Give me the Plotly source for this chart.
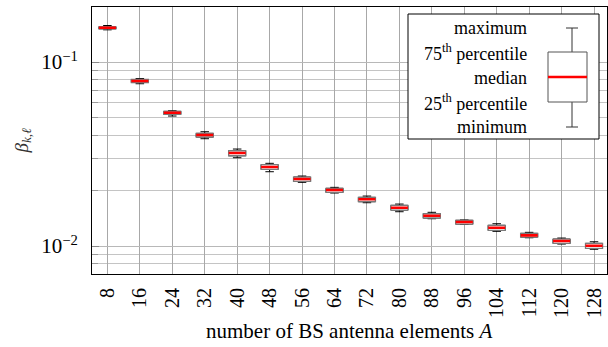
import plotly.graph_objects as go

# ---- data ----
antennas = [8, 16, 24, 32, 40, 48, 56, 64, 72, 80, 88, 96, 104, 112, 120, 128]
beta_max = [0.1579, 0.08132, 0.05435, 0.04180, 0.03366, 0.02815, 0.02401, 0.02084,
            0.01869, 0.01691, 0.01525, 0.01385, 0.01322, 0.01187, 0.01105, 0.01055]
beta_q3 = [0.1553, 0.08033, 0.05395, 0.04097, 0.03295, 0.02766, 0.02371, 0.02059,
           0.01839, 0.01664, 0.01498, 0.01380, 0.01296, 0.01172, 0.01091, 0.01034]
beta_median = [0.1536, 0.07880, 0.05302, 0.04011, 0.03201, 0.02687, 0.02312, 0.02015,
               0.01794, 0.01615, 0.01461, 0.01351, 0.01258, 0.01143, 0.01064, 0.01004]
beta_q1 = [0.1515, 0.07735, 0.05203, 0.03912, 0.03095, 0.02611, 0.02247, 0.01957,
           0.01741, 0.01569, 0.01420, 0.01317, 0.01217, 0.01119, 0.01034, 0.00972]
beta_min = [0.1496, 0.07620, 0.05087, 0.03830, 0.03019, 0.02534, 0.02219, 0.01941,
            0.01719, 0.01536, 0.01407, 0.01312, 0.01202, 0.01109, 0.01025, 0.00960]
x_tick_labels = [str(a) for a in antennas]
y_tick_vals = [0.01, 0.1]
y_tick_text = ["10<sup>\u22122</sup>", "10<sup>\u22121</sup>"]
y_minor_vals = [0.008, 0.009, 0.02, 0.03, 0.04, 0.05, 0.06, 0.07, 0.08, 0.09]
legend_labels = ["maximum", "75<sup>th</sup> percentile", "median",
                 "25<sup>th</sup> percentile", "minimum"]

FONT = "Liberation Serif, Times New Roman, DejaVu Serif, serif"
W, H = 608, 347
ML, MR, MT, MB = 92, 1, 7, 73
PW, PH = W - ML - MR, H - MT - MB


def px(x):
    return (x - ML) / PW


def py(y):
    return (H - MB - y) / PH


fig = go.Figure()
box_w = 4.2
# whiskers (black)
fig.add_trace(go.Box(x=antennas, q1=beta_q1, median=beta_median, q3=beta_q3,
                     lowerfence=beta_min, upperfence=beta_max,
                     width=box_w, whiskerwidth=0.5,
                     line=dict(color="black", width=1), fillcolor="white",
                     boxpoints=False, showlegend=False, hoverinfo="skip"))
# box body (gray border)
fig.add_trace(go.Box(x=antennas, q1=beta_q1, median=beta_median, q3=beta_q3,
                     lowerfence=beta_q1, upperfence=beta_q3,
                     width=box_w, whiskerwidth=0,
                     line=dict(color="#7a7a7a", width=1.3), fillcolor="white",
                     boxpoints=False, showlegend=False, hoverinfo="skip"))
# median (red)
fig.add_trace(go.Box(x=antennas, q1=beta_median, median=beta_median, q3=beta_median,
                     lowerfence=beta_median, upperfence=beta_median,
                     width=box_w, whiskerwidth=0,
                     line=dict(color="#ff0000", width=2.6), fillcolor="rgba(0,0,0,0)",
                     boxpoints=False, showlegend=False, hoverinfo="skip"))

fig.update_layout(
    width=W, height=H,
    margin=dict(l=ML, r=MR, t=MT, b=MB, pad=0),
    paper_bgcolor="white", plot_bgcolor="white",
    boxmode="overlay", showlegend=False,
    font=dict(family=FONT, size=19, color="black"),
)
fig.update_xaxes(
    range=[4.2, 131.2], tickvals=antennas, ticktext=x_tick_labels, tickangle=-90,
    showgrid=True, gridcolor="#a8a8a8", gridwidth=1,
    showline=True, linecolor="black", linewidth=1, mirror=True,
    ticks="", zeroline=False, tickfont=dict(size=20, family=FONT),
    ticklabelstandoff=5,
)
fig.update_yaxes(
    type="log", range=[-2.152, -0.701],
    tickvals=y_tick_vals, ticktext=y_tick_text,
    showgrid=True, gridcolor="#b8b8b8", gridwidth=1,
    showline=True, linecolor="black", linewidth=1, mirror=True,
    ticks="inside", ticklen=7, tickcolor="#888888",
    minor=dict(tickvals=y_minor_vals, showgrid=True, gridcolor="#c4c4c4",
               ticks="inside", ticklen=6, tickcolor="#999999"),
    zeroline=False, tickfont=dict(size=21, family=FONT),
    ticklabelstandoff=9,
)

# axis titles
fig.add_annotation(x=0.5, y=py(331), xref="paper", yref="paper",
                   text="number of BS antenna elements <i>A</i>", showarrow=False,
                   xanchor="center", yanchor="middle",
                   font=dict(family=FONT, size=21, color="black"))
fig.add_annotation(x=px(22), y=0.5, xref="paper", yref="paper",
                   text="<i>\u03b2</i><sub><i>k</i>,<i>\u2113</i></sub>", showarrow=False,
                   textangle=-90, xanchor="center", yanchor="middle",
                   font=dict(family=FONT, size=19, color="#333333"))

# custom legend box
fig.add_shape(type="rect", xref="paper", yref="paper",
              x0=px(408), x1=px(599), y0=py(139), y1=py(14),
              line=dict(color="black", width=1), fillcolor="white", layer="above")
for lab, yy in zip(legend_labels, [28, 53, 78, 102, 127]):
    fig.add_annotation(x=px(529), y=py(yy), xref="paper", yref="paper", text=lab,
                       showarrow=False, xanchor="right", yanchor="middle",
                       font=dict(family=FONT, size=18, color="black"))
# legend glyph
gl = dict(xref="paper", yref="paper", layer="above")
fig.add_shape(type="line", x0=px(572), x1=px(572), y0=py(28), y1=py(52),
              line=dict(color="#333333", width=1), **gl)
fig.add_shape(type="line", x0=px(572), x1=px(572), y0=py(102), y1=py(127),
              line=dict(color="#333333", width=1), **gl)
fig.add_shape(type="line", x0=px(566), x1=px(578), y0=py(28), y1=py(28),
              line=dict(color="#333333", width=1), **gl)
fig.add_shape(type="line", x0=px(566), x1=px(578), y0=py(127), y1=py(127),
              line=dict(color="#333333", width=1), **gl)
fig.add_shape(type="rect", x0=px(548), x1=px(587), y0=py(102), y1=py(52),
              line=dict(color="#555555", width=1), fillcolor="white", **gl)
fig.add_shape(type="line", x0=px(548), x1=px(587), y0=py(77), y1=py(77),
              line=dict(color="#ff0000", width=2.5), **gl)

fig.write_html("out.html", config={"displayModeBar": False},
               post_script="document.body.style.margin='0';document.body.style.padding='0';")
